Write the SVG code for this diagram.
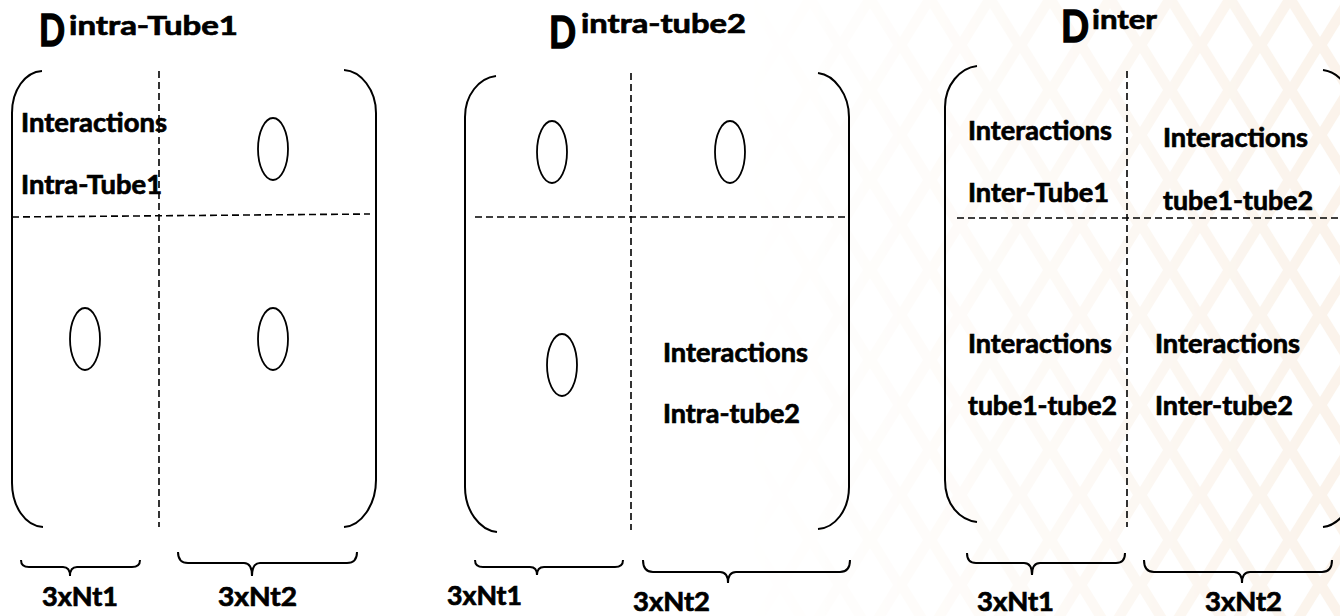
<svg xmlns="http://www.w3.org/2000/svg" width="1340" height="616" viewBox="0 0 1340 616">
<defs>
  <style>
    .t { font-family: Lato, "Open Sans", "Liberation Sans", sans-serif; font-weight: bold; fill: #000; stroke: #000; stroke-width: 0.7px; }
    .lbl { font-size: 26px; }
    .big { font-size: 43px; stroke-width: 1.5px; }
    .br { fill: none; stroke: #000; stroke-width: 2; }
    .dash { fill: none; stroke: #000; stroke-width: 1.6; stroke-dasharray: 7 4; }
    .ell { fill: none; stroke: #000; stroke-width: 1.8; }
  </style>
  <pattern id="lattice" x="0" y="0" width="60" height="90" patternUnits="userSpaceOnUse">
    <rect width="60" height="90" fill="#f9efe4"/>
    <polygon points="30,8 53,45 30,82 7,45" fill="#fff"/>
    <polygon points="0,-37 23,0 0,37 -23,0" fill="#fff"/>
    <polygon points="60,-37 83,0 60,37 37,0" fill="#fff"/>
    <polygon points="0,53 23,90 0,127 -23,90" fill="#fff"/>
    <polygon points="60,53 83,90 60,127 37,90" fill="#fff"/>
  </pattern>
  <linearGradient id="fadeG" x1="0" y1="0" x2="1340" y2="0" gradientUnits="userSpaceOnUse">
    <stop offset="0.55" stop-color="#fff" stop-opacity="0"/>
    <stop offset="0.8" stop-color="#fff" stop-opacity="0.35"/>
    <stop offset="1" stop-color="#fff" stop-opacity="0.75"/>
  </linearGradient>
  <mask id="fadeM">
    <rect width="1340" height="616" fill="url(#fadeG)"/>
  </mask>
</defs>
<rect width="1340" height="616" fill="#fff"/>
<rect width="1340" height="616" fill="url(#lattice)" mask="url(#fadeM)"/>

<g id="matrix-intra-tube1">
  <text class="t lbl"><tspan class="big" x="39" y="46" textLength="26" lengthAdjust="spacingAndGlyphs">D</tspan><tspan x="69" y="35" textLength="169" lengthAdjust="spacingAndGlyphs">intra-Tube1</tspan></text>
  <path class="br" d="M42,71 C25,72 12,90 12,113 L12,483 C12,506 25,526 43,527"/>
  <path class="br" d="M344,70 C361,71 376,90 376,113 L376,480 C376,505 361,526 344,527"/>
  <line class="dash" x1="159" y1="71" x2="159" y2="527"/>
  <line class="dash" x1="12" y1="217" x2="370" y2="214"/>
  <text class="t lbl" x="21" y="132" textLength="146" lengthAdjust="spacingAndGlyphs">Interactions</text>
  <text class="t lbl" x="21" y="194" textLength="141" lengthAdjust="spacingAndGlyphs">Intra-Tube1</text>
  <ellipse class="ell" cx="273" cy="149" rx="15" ry="31"/>
  <ellipse class="ell" cx="85" cy="339" rx="15" ry="31"/>
  <ellipse class="ell" cx="273" cy="339" rx="15" ry="31"/>
  <path class="br" d="M21,560 Q21,567 29,567 L63,567 Q70,567 70,576 Q70,567 77,567 L132,567 Q140,567 140,560"/>
  <path class="br" d="M178,552 Q178,563 188,563 L244,563 Q252,563 252,576 Q252,563 260,563 L347,563 Q357,563 357,552"/>
  <text class="t lbl" x="42" y="606" textLength="76" lengthAdjust="spacingAndGlyphs">3xNt1</text>
  <text class="t lbl" x="218" y="606" textLength="79" lengthAdjust="spacingAndGlyphs">3xNt2</text>
</g>

<g id="matrix-intra-tube2">
  <text class="t lbl"><tspan class="big" x="549" y="48" textLength="27" lengthAdjust="spacingAndGlyphs">D</tspan><tspan x="581" y="33" textLength="165" lengthAdjust="spacingAndGlyphs">intra-tube2</tspan></text>
  <path class="br" d="M496,76 C479,78 465,95 465,117 L465,487 C465,510 479,530 497,532"/>
  <path class="br" d="M818,73 C835,75 849,95 849,117 L849,487 C849,510 835,528 818,529"/>
  <line class="dash" x1="631" y1="73" x2="631" y2="530"/>
  <line class="dash" x1="475" y1="217" x2="847" y2="217"/>
  <ellipse class="ell" cx="552" cy="152" rx="15" ry="31"/>
  <ellipse class="ell" cx="730" cy="152" rx="15" ry="31"/>
  <ellipse class="ell" cx="562" cy="365" rx="15" ry="31"/>
  <text class="t lbl" x="663" y="362" textLength="145" lengthAdjust="spacingAndGlyphs">Interactions</text>
  <text class="t lbl" x="663" y="423" textLength="137" lengthAdjust="spacingAndGlyphs">Intra-tube2</text>
  <path class="br" d="M475,560 Q475,567 483,567 L530,567 Q537,567 537,575 Q537,567 544,567 L615,567 Q623,567 623,560"/>
  <path class="br" d="M643,560 Q643,572 653,572 L720,572 Q728,572 728,583 Q728,572 736,572 L840,572 Q850,572 850,560"/>
  <text class="t lbl" x="447" y="605" textLength="75" lengthAdjust="spacingAndGlyphs">3xNt1</text>
  <text class="t lbl" x="633" y="611" textLength="77" lengthAdjust="spacingAndGlyphs">3xNt2</text>
</g>

<g id="matrix-inter">
  <text class="t lbl"><tspan class="big" x="1061" y="42" textLength="28" lengthAdjust="spacingAndGlyphs">D</tspan><tspan x="1092" y="29" textLength="65" lengthAdjust="spacingAndGlyphs">inter</tspan></text>
  <path class="br" d="M977,66 C960,68 945,85 945,107 L945,480 C945,505 960,520 977,522"/>
  <path class="br" d="M1323,70 C1340,72 1355,92 1355,113 L1355,480 C1355,505 1340,525 1323,527"/>
  <line class="dash" x1="1127" y1="71" x2="1127" y2="527"/>
  <line class="dash" x1="957" y1="218" x2="1340" y2="218"/>
  <text class="t lbl" x="968" y="140" textLength="144" lengthAdjust="spacingAndGlyphs">Interactions</text>
  <text class="t lbl" x="968" y="202" textLength="141" lengthAdjust="spacingAndGlyphs">Inter-Tube1</text>
  <text class="t lbl" x="1163" y="147" textLength="145" lengthAdjust="spacingAndGlyphs">Interactions</text>
  <text class="t lbl" x="1163" y="210" textLength="150" lengthAdjust="spacingAndGlyphs">tube1-tube2</text>
  <text class="t lbl" x="968" y="353" textLength="144" lengthAdjust="spacingAndGlyphs">Interactions</text>
  <text class="t lbl" x="968" y="415" textLength="149" lengthAdjust="spacingAndGlyphs">tube1-tube2</text>
  <text class="t lbl" x="1155" y="353" textLength="145" lengthAdjust="spacingAndGlyphs">Interactions</text>
  <text class="t lbl" x="1155" y="415" textLength="138" lengthAdjust="spacingAndGlyphs">Inter-tube2</text>
  <path class="br" d="M967,553 Q967,563 976,563 L1024,563 Q1032,563 1032,575 Q1032,563 1040,563 L1116,563 Q1125,563 1125,553"/>
  <path class="br" d="M1144,560 Q1144,572 1154,572 L1234,572 Q1242,572 1242,583 Q1242,572 1250,572 L1322,572 Q1332,572 1332,560"/>
  <text class="t lbl" x="977" y="611" textLength="77" lengthAdjust="spacingAndGlyphs">3xNt1</text>
  <text class="t lbl" x="1205" y="611" textLength="77" lengthAdjust="spacingAndGlyphs">3xNt2</text>
</g>
</svg>
